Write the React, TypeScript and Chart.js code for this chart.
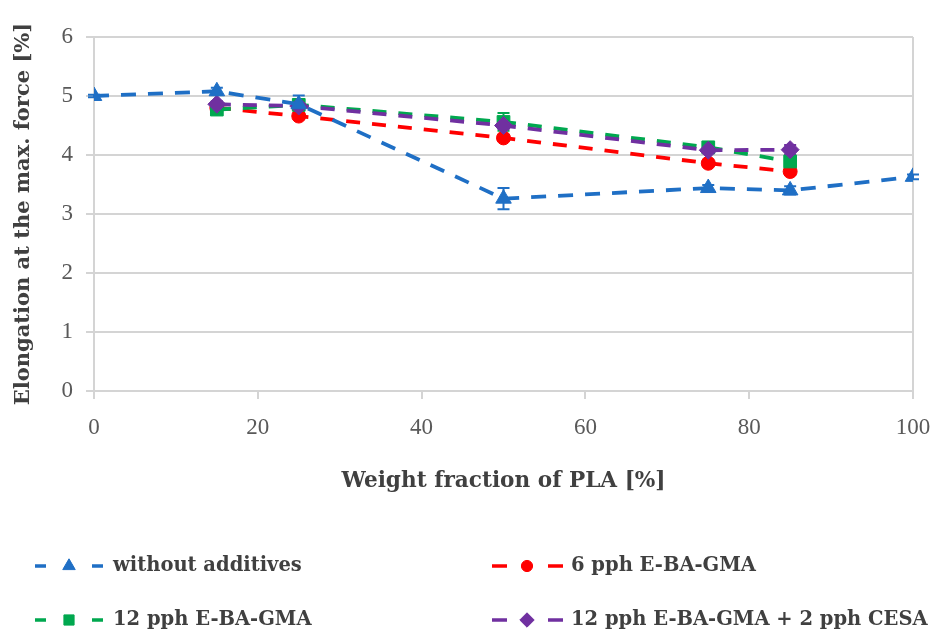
import React, { useEffect, useRef } from "react";
import { Chart, registerables } from "chart.js";
import { drawPoint } from "chart.js/helpers";

Chart.register(...registerables);

const seriesLabels = [
  "without additives",
  "6 pph E-BA-GMA",
  "12 pph E-BA-GMA",
  "12 pph E-BA-GMA + 2 pph CESA",
];
const seriesColors = ["#1F6FC5", "#FF0000", "#00A84F", "#7030A0"];
const seriesMarkers = ["triangle", "circle", "rect", "rectRot"];

const noAddX = [0, 15, 25, 50, 75, 85, 100];
const noAddY = [5.0, 5.08, 4.86, 3.26, 3.44, 3.4, 3.63];
const noAddErr = [0.02, 0.06, 0.15, 0.18, 0.05, 0.07, 0.04];

const blendX = [15, 25, 50, 75, 85];
const eba6Y = [4.8, 4.66, 4.29, 3.86, 3.72];
const eba6Err = [0.04, 0.05, 0.05, 0.05, 0.06];
const eba12Y = [4.77, 4.85, 4.56, 4.13, 3.89];
const eba12Err = [0.05, 0.08, 0.15, 0.07, 0.1];
const cesaY = [4.86, 4.83, 4.5, 4.08, 4.09];
const cesaErr = [0.05, 0.05, 0.06, 0.05, 0.08];

const xTickValues = [0, 20, 40, 60, 80, 100];
const yTickValues = [0, 1, 2, 3, 4, 5, 6];

const xTitle = "Weight fraction of PLA [%]";
const yTitle = "Elongation at the max. force [%]";

const GRID = "#D4D4D4";
const TEXT = "#404040";
const TICK = "#595959";

function pts(xs: number[], ys: number[]) {
  return xs.map((x, i) => ({ x, y: ys[i] }));
}

const errorBarPlugin = {
  id: "errorBars",
  beforeDatasetsDraw(chart: any) {
    const { ctx } = chart;
    const ys = chart.scales.y;
    chart.data.datasets.forEach((ds: any, di: number) => {
      const meta = chart.getDatasetMeta(di);
      ctx.save();
      ctx.strokeStyle = ds.borderColor;
      ctx.lineWidth = 2;
      meta.data.forEach((el: any, i: number) => {
        const e = ds.errors[i];
        const v = ds.data[i].y;
        const top = ys.getPixelForValue(v + e);
        const bot = ys.getPixelForValue(v - e);
        const x = el.x;
        ctx.beginPath();
        ctx.moveTo(x, top);
        ctx.lineTo(x, bot);
        ctx.moveTo(x - 6, top);
        ctx.lineTo(x + 6, top);
        ctx.moveTo(x - 6, bot);
        ctx.lineTo(x + 6, bot);
        ctx.stroke();
      });
      ctx.restore();
    });
  },
};

const legendPlugin = {
  id: "customLegend",
  afterDraw(chart: any) {
    const { ctx } = chart;
    const cols = [
      { d1: [35, 46], m: 69, d2: [92, 103], t: 113 },
      { d1: [492, 507], m: 527, d2: [548, 563], t: 571 },
    ];
    const rows = [566, 620];
    chart.data.datasets.forEach((ds: any, i: number) => {
      const c = cols[i % 2];
      const y = rows[Math.floor(i / 2)];
      ctx.save();
      ctx.strokeStyle = ds.borderColor;
      ctx.lineWidth = 3.5;
      ctx.beginPath();
      ctx.moveTo(c.d1[0], y);
      ctx.lineTo(c.d1[1], y);
      ctx.moveTo(c.d2[0], y);
      ctx.lineTo(c.d2[1], y);
      ctx.stroke();
      ctx.fillStyle = ds.backgroundColor;
      ctx.strokeStyle = ds.borderColor;
      ctx.lineWidth = 1;
      drawPoint(
        ctx,
        { pointStyle: ds.pointStyle, radius: ds.pointRadius * 0.8, borderWidth: 1, rotation: 0 },
        c.m,
        y
      );
      ctx.fillStyle = TEXT;
      ctx.font = "bold 19.5px 'DejaVu Serif'";
      ctx.textBaseline = "middle";
      ctx.textAlign = "left";
      ctx.fillText(ds.label, c.t, y);
      ctx.restore();
    });
  },
};

export default function App() {
  const ref = useRef<HTMLCanvasElement | null>(null);

  useEffect(() => {
    document.body.style.margin = "0";
    const canvas = ref.current;
    if (!canvas) return;
    const seriesPts = [
      pts(noAddX, noAddY),
      pts(blendX, eba6Y),
      pts(blendX, eba12Y),
      pts(blendX, cesaY),
    ];
    const seriesErr = [noAddErr, eba6Err, eba12Err, cesaErr];
    const radii = [9, 7, 9, 9];
    const dashes = [
      [15, 12],
      [14, 12],
      [14, 12],
      [14, 12],
    ];
    const order = [1, 4, 3, 2];
    const datasets = seriesLabels.map((label, i) => ({
      label,
      data: seriesPts[i],
      errors: seriesErr[i],
      showLine: true,
      borderColor: seriesColors[i],
      backgroundColor: seriesColors[i],
      borderWidth: 3.8,
      borderDash: dashes[i],
      pointStyle: seriesMarkers[i],
      pointRadius: radii[i],
      pointBorderWidth: 1,
      pointHoverRadius: radii[i],
      order: order[i],
    }));

    const chart = new Chart(canvas, {
      type: "scatter",
      data: { datasets } as any,
      options: {
        animation: false,
        responsive: false,
        maintainAspectRatio: false,
        layout: { padding: { top: 37, right: 20, left: 0, bottom: 128 } },
        plugins: {
          legend: { display: false },
          tooltip: { enabled: false },
        },
        scales: {
          x: {
            type: "linear",
            min: 0,
            max: 100,
            afterFit: (s: any) => {
              s.height = 120;
              s.paddingLeft = 0;
              s.paddingRight = 0;
            },
            afterBuildTicks: (s: any) => {
              s.ticks = xTickValues.map((v) => ({ value: v }));
            },
            ticks: {
              padding: 15,
              color: TICK,
              font: { family: "'Liberation Serif'", size: 23 },
            },
            grid: {
              color: (c: any) => (c.tick && c.tick.value === 100 ? GRID : "rgba(0,0,0,0)"),
              tickColor: GRID,
              tickLength: 8,
              lineWidth: 2,
            },
            border: { color: GRID, width: 2 },
            title: {
              display: true,
              text: xTitle,
              color: TEXT,
              font: { family: "'DejaVu Serif'", size: 21.6, weight: "bold" },
              padding: { top: 0, bottom: 17 },
            },
          },
          y: {
            type: "linear",
            min: 0,
            max: 6,
            afterFit: (s: any) => {
              s.width = 94;
              s.paddingTop = 0;
              s.paddingBottom = 0;
            },
            afterBuildTicks: (s: any) => {
              s.ticks = yTickValues.map((v) => ({ value: v }));
            },
            ticks: {
              padding: 13,
              color: TICK,
              font: { family: "'Liberation Serif'", size: 23 },
            },
            grid: {
              color: GRID,
              tickColor: GRID,
              tickLength: 8,
              lineWidth: 2,
            },
            border: { color: GRID, width: 2 },
            title: {
              display: true,
              text: yTitle,
              color: TEXT,
              font: { family: "'DejaVu Serif'", size: 21, weight: "bold" },
              padding: { top: 11, bottom: 0 },
            },
          },
        },
      } as any,
      plugins: [errorBarPlugin, legendPlugin],
    });
    return () => chart.destroy();
  }, []);

  return (
    <div style={{ width: 933, height: 639, background: "#fff" }}>
      <canvas ref={ref} width={933} height={639} />
    </div>
  );
}
